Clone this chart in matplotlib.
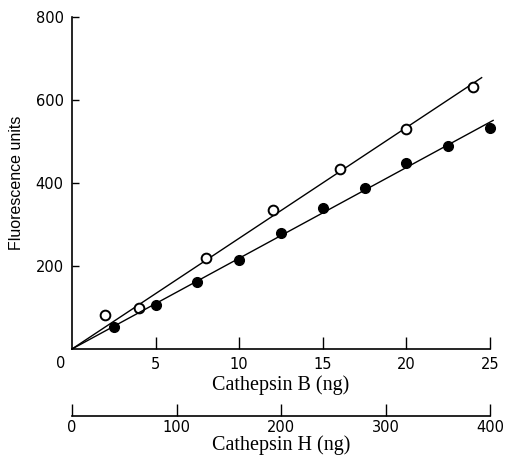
import numpy as np
import matplotlib
matplotlib.use("Agg")
import matplotlib.pyplot as plt
import matplotlib.transforms as mtransforms

# Open circles: Cathepsin B (ng) vs fluorescence
b_ng = [2, 4, 8, 12, 16, 20, 24]
b_fluor = [82, 98, 219, 334, 433, 529, 630]

# Filled circles: Cathepsin H (ng) vs fluorescence
h_ng = [40, 80, 120, 160, 200, 240, 280, 320, 360, 400]
h_fluor = [53, 106, 161, 214, 279, 339, 387, 447, 489, 532]

b_ticks = [5, 10, 15, 20, 25]
h_ticks = [0, 100, 200, 300, 400]
y_ticks = [200, 400, 600, 800]

tick_font = {"family": "DejaVu Sans", "size": 10.5}
serif = {"family": "Liberation Serif", "size": 14.5}

fig = plt.figure(figsize=(5.05, 4.55), dpi=100)
ax = fig.add_axes([0.1426, 0.2330, 0.8277, 0.7300])

# fitted lines through the origin
kb = np.dot(b_ng, b_fluor) / np.dot(b_ng, b_ng)
xb = np.array([0, 24.5])
ax.plot(xb, kb * xb, color="black", lw=1.0, clip_on=False)
ax.plot(b_ng, b_fluor, "o", ms=7, mfc="white", mec="black", mew=1.4, zorder=3, clip_on=False)

ax.set_xlim(0, 25)
ax.set_ylim(0, 800)
ax.spines["top"].set_visible(False)
ax.spines["right"].set_visible(False)
ax.set_xticks(b_ticks)
ax.set_xticklabels([str(t) for t in b_ticks], fontdict=tick_font)
ax.set_yticks(y_ticks)
ax.set_yticklabels([str(t) for t in y_ticks], fontdict=tick_font)
ax.tick_params(axis="x", direction="in", length=9, width=1, pad=6)
ax.tick_params(axis="y", direction="in", length=5, width=1, pad=6)
ax.set_ylabel("Fluorescence units", family="Liberation Sans", size=11.5, labelpad=8)
ax.set_xlabel("Cathepsin B (ng)", fontdict=serif, labelpad=2)
trans = mtransforms.blended_transform_factory(ax.transData, ax.transAxes)
ax.text(-0.7, -0.045, "0", transform=trans, ha="center", va="center", **tick_font)

# second x axis for cathepsin H
ax2 = ax.twiny()
kh = np.dot(h_ng, h_fluor) / np.dot(h_ng, h_ng)
xh = np.array([0, 403])
ax2.plot(xh, kh * xh, color="black", lw=1.0, clip_on=False)
ax2.plot(h_ng, h_fluor, "o", ms=7, color="black", zorder=3, clip_on=False)
ax2.set_xlim(0, 400)
ax2.set_ylim(0, 800)
ax2.xaxis.set_ticks_position("bottom")
ax2.xaxis.set_label_position("bottom")
ax2.spines["bottom"].set_position(("outward", 48))
for s in ["top", "right", "left"]:
    ax2.spines[s].set_visible(False)
ax2.set_xticks(h_ticks)
ax2.set_xticklabels([str(t) for t in h_ticks], fontdict=tick_font)
ax2.tick_params(axis="x", direction="in", length=9, width=1, pad=3)
ax2.set_xlabel("Cathepsin H (ng)", fontdict=serif, labelpad=0)
for a in (ax, ax2):
    for s in a.spines.values():
        s.set_linewidth(1.2)

fig.savefig("out.png", dpi=100)
